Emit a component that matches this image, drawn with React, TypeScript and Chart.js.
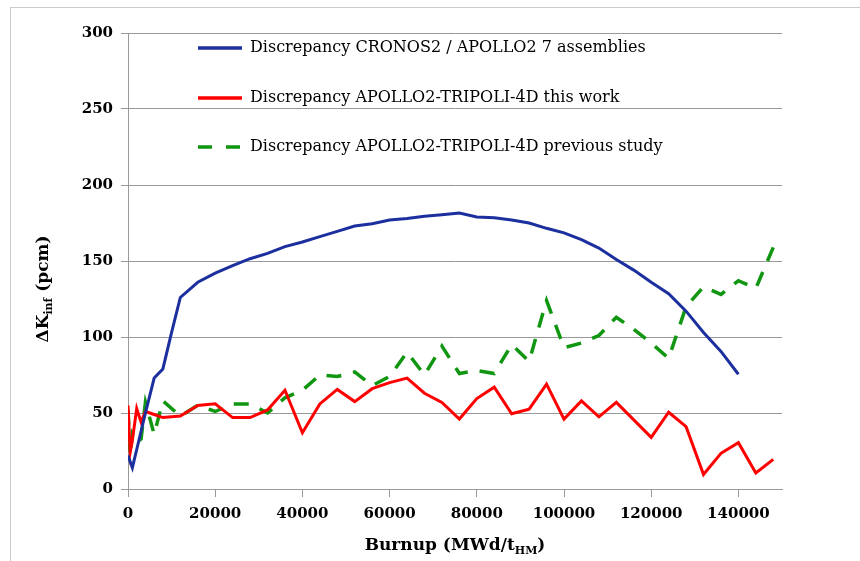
import { useEffect, useRef } from 'react';
import { Chart, registerables } from 'chart.js';

Chart.register(...registerables);

const seriesLabels = [
  'Discrepancy CRONOS2 / APOLLO2 7 assemblies',
  'Discrepancy APOLLO2-TRIPOLI-4D this work',
  'Discrepancy APOLLO2-TRIPOLI-4D previous study',
];

const cronosBurnup = [
  0, 1000, 2000, 4000, 6000, 8000, 10000, 12000, 16000, 20000, 24000, 28000, 32000, 36000, 40000,
  44000, 48000, 52000, 56000, 60000, 64000, 68000, 72000, 76000, 80000, 84000, 88000, 92000, 96000,
  100000, 104000, 108000, 112000, 116000, 120000, 124000, 128000, 132000, 136000, 140000,
];
const cronosValues = [
  22, 14, 26, 50, 73, 79, 103, 126, 136, 142, 147, 151.5, 155, 159.5, 162.5,
  166, 169.5, 173, 174.5, 177, 178, 179.5, 180.5, 181.5, 179, 178.5, 177, 175, 171.5,
  168.5, 164, 158.5, 151, 144, 136, 128.5, 117, 103, 90.5, 75.5,
];

const tripoliBurnup = [
  0, 500, 1000, 2000, 3000, 4000, 6000, 8000, 12000, 16000, 20000, 24000, 28000, 32000, 36000,
  40000, 44000, 48000, 52000, 56000, 60000, 64000, 68000, 72000, 76000, 80000, 84000, 88000, 92000,
  96000, 100000, 104000, 108000, 112000, 116000, 120000, 124000, 128000, 132000, 136000, 140000,
  144000, 148000,
];
const thisWorkValues = [
  55, 24, 32, 53, 44, 51, 49, 47, 48, 55, 56, 47, 47, 52, 65,
  37, 56, 65.5, 57.5, 66, 70, 73, 63, 57, 46, 59.5, 67, 49.5, 52.5,
  69, 46, 58, 47.5, 57, 45.5, 34, 50.5, 41, 9.5, 23.5, 30.5,
  10.5, 19.5,
];
const previousStudyValues = [
  52, 22, 36, 30, 33, 57, 36, 58, 48, 55, 51, 56, 56, 50, 60,
  65, 75, 74, 77, 68, 74, 90, 75, 94, 76, 78, 76, 95, 84,
  124, 93, 96, 101, 113, 105, 96, 86, 120, 133, 128, 137,
  132, 159,
];

const xTickValues = [0, 20000, 40000, 60000, 80000, 100000, 120000, 140000];
const yTickValues = [0, 50, 100, 150, 200, 250, 300];

const seriesColors = ['#1c2f9e', '#ff0000', '#109610'];

const toPoints = (xs: number[], ys: number[]) => xs.map((x, i) => ({ x, y: ys[i] }));

type Part = { t: string; sub?: boolean };

function drawRich(ctx: CanvasRenderingContext2D, parts: Part[], cx: number, baseline: number, size: number, subSize: number) {
  const mainFont = `bold ${size}px "DejaVu Serif"`;
  const subFont = `bold ${subSize}px "DejaVu Serif"`;
  let total = 0;
  const widths = parts.map((p) => {
    ctx.font = p.sub ? subFont : mainFont;
    const w = ctx.measureText(p.t).width;
    total += w;
    return w;
  });
  let x = cx - total / 2;
  ctx.textAlign = 'left';
  ctx.textBaseline = 'alphabetic';
  parts.forEach((p, i) => {
    ctx.font = p.sub ? subFont : mainFont;
    ctx.fillText(p.t, x, baseline + (p.sub ? 4 : 0));
    x += widths[i];
  });
}

const overlayPlugin = {
  id: 'overlay',
  afterDraw(chart: any) {
    const { ctx, chartArea } = chart;
    ctx.save();
    // legend inside plot
    const rows = [48, 98, 147];
    chart.data.datasets.forEach((ds: any, i: number) => {
      const y = rows[i];
      ctx.strokeStyle = ds.borderColor;
      ctx.lineWidth = 3.5;
      ctx.setLineDash(i === 2 ? [14, 14] : []);
      ctx.beginPath();
      ctx.moveTo(198, y);
      ctx.lineTo(242, y);
      ctx.stroke();
      ctx.setLineDash([]);
      ctx.fillStyle = '#000';
      ctx.font = '16px "DejaVu Serif"';
      ctx.textAlign = 'left';
      ctx.textBaseline = 'middle';
      ctx.fillText(ds.label, 250, y);
    });
    // axis titles
    ctx.fillStyle = '#000';
    drawRich(ctx, [{ t: 'Burnup (MWd/t' }, { t: 'HM', sub: true }, { t: ')' }], (chartArea.left + chartArea.right) / 2, 550, 17, 11);
    ctx.translate(48, 289);
    ctx.rotate(-Math.PI / 2);
    drawRich(ctx, [{ t: 'ΔK' }, { t: 'inf', sub: true }, { t: ' (pcm)' }], 0, 0, 17, 11);
    ctx.restore();
  },
};

export default function App() {
  const ref = useRef<HTMLCanvasElement | null>(null);

  useEffect(() => {
    if (!ref.current) return;
    const tickFont = { family: '"DejaVu Serif"', size: 15, weight: 'bold' as const };
    const chart = new Chart(ref.current, {
      type: 'line',
      data: {
        datasets: [
          {
            label: seriesLabels[0],
            data: toPoints(cronosBurnup, cronosValues),
            borderColor: seriesColors[0],
            borderWidth: 3,
            pointRadius: 0,
            tension: 0,
            fill: false,
          },
          {
            label: seriesLabels[1],
            data: toPoints(tripoliBurnup, thisWorkValues),
            borderColor: seriesColors[1],
            borderWidth: 3,
            pointRadius: 0,
            tension: 0,
            fill: false,
          },
          {
            label: seriesLabels[2],
            data: toPoints(tripoliBurnup, previousStudyValues),
            borderColor: seriesColors[2],
            borderWidth: 3.5,
            borderDash: [15, 12],
            pointRadius: 0,
            tension: 0,
            fill: false,
          },
        ],
      },
      options: {
        responsive: false,
        animation: false,
        events: [],
        layout: { padding: { left: 0, top: 33, right: 78, bottom: 0 } },
        plugins: { legend: { display: false }, tooltip: { enabled: false } },
        scales: {
          x: {
            type: 'linear',
            min: 0,
            max: 150000,
            afterFit: (s: any) => {
              s.height = 72;
            },
            afterBuildTicks: (s: any) => {
              s.ticks = xTickValues.map((v) => ({ value: v }));
            },
            grid: { display: true, drawOnChartArea: false, drawTicks: true, tickLength: 8, color: '#999999' },
            border: { display: true, color: '#999999', width: 1 },
            ticks: {
              color: '#000',
              font: tickFont,
              padding: 8,
              maxRotation: 0,
              autoSkip: false,
              callback: (v: any) => String(v),
            },
          },
          y: {
            type: 'linear',
            min: 0,
            max: 300,
            afterFit: (s: any) => {
              s.width = 128;
            },
            afterBuildTicks: (s: any) => {
              s.ticks = yTickValues.map((v) => ({ value: v }));
            },
            grid: { display: true, drawOnChartArea: true, drawTicks: true, tickLength: 7, color: '#999999', lineWidth: 1 },
            border: { display: true, color: '#999999', width: 1 },
            ticks: {
              color: '#000',
              font: tickFont,
              padding: 8,
              autoSkip: false,
              callback: (v: any) => String(v),
            },
          },
        },
      },
      plugins: [overlayPlugin],
    });
    return () => chart.destroy();
  }, []);

  return (
    <div style={{ position: 'fixed', left: 0, top: 0, width: 860, height: 561, background: '#fff' }}>
      <div
        style={{
          position: 'absolute',
          left: 10,
          top: 7,
          right: 0,
          bottom: 0,
          borderTop: '1px solid #cccccc',
          borderLeft: '1px solid #cccccc',
          pointerEvents: 'none',
        }}
      />
      <canvas ref={ref} width={860} height={561} style={{ position: 'absolute', left: 0, top: 0 }} />
    </div>
  );
}
